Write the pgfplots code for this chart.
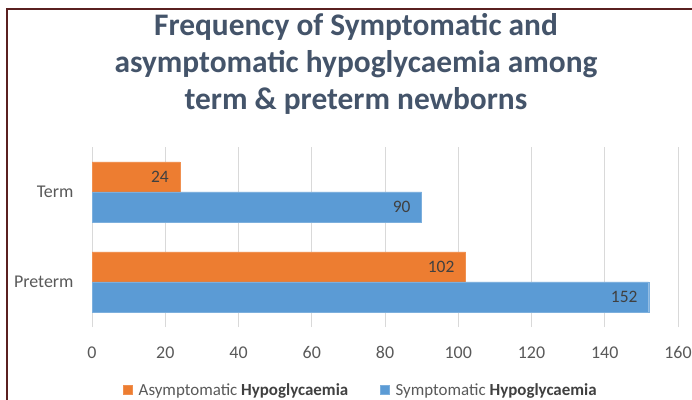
\documentclass[border=0pt]{standalone}
\usepackage{fontspec}
\setmainfont{Carlito}
\usepackage{pgfplots}
\pgfplotsset{compat=1.18}
\definecolor{orangebar}{HTML}{ED7D31}
\definecolor{bluebar}{HTML}{5B9BD5}
\definecolor{titlecol}{HTML}{44546A}
\definecolor{txtgray}{HTML}{595959}
\definecolor{darkgray}{HTML}{404040}
\definecolor{gridgray}{HTML}{D9D9D9}
\definecolor{framecol}{HTML}{5A2020}
\begin{document}
\begin{tikzpicture}
\path[use as bounding box, fill=white] (0,0) rectangle (692bp,400bp);
\draw[framecol, line width=1.5bp] (7bp,0) -- (7bp,391bp) -- (692bp,391bp);
\node[align=center, text=titlecol, font=\fontsize{31.5}{37.5}\selectfont\bfseries] at (356bp,336bp) {Frequency of Symptomatic and\\asymptomatic hypoglycaemia among\\term \& preterm newborns};
\begin{axis}[
 at={(92bp,73bp)}, anchor=south west, scale only axis, width=586bp, height=180bp,
 xbar, bar width=30bp,
 xmin=0, xmax=160, ymin=-0.5, ymax=1.5,
 xtick={0,20,...,160}, ytick={0,1}, yticklabels={Preterm,Term},
 xmajorgrids, grid style={gridgray, line width=0.8bp},
 axis line style={draw=none}, major tick length=0pt,
 tick label style={font=\fontsize{18}{21}\selectfont, text=txtgray},
 /pgf/number format/assume math mode=true,
 xticklabel style={yshift=-16bp},
 yticklabel style={xshift=-15bp},
 nodes near coords,
 every node near coord/.append style={anchor=east, inner sep=0pt, xshift=-11bp, font=\fontsize{17.5}{20}\selectfont, text=darkgray, /pgf/number format/assume math mode=true},
 legend columns=2,
 legend style={at={(0.459,-0.35)}, anchor=center, draw=none, fill=none, font=\fontsize{17}{19}\selectfont, text=txtgray,
   /tikz/every odd column/.append style={column sep=4bp},
   /tikz/every even column/.append style={column sep=30bp}},
 legend image code/.code={\fill[#1] (0bp,-4.5bp) rectangle (9bp,4.5bp);},
]
\addplot[fill=orangebar, draw=orangebar!85!white, bar shift=15bp] coordinates {(102,0) (24,1)};
\addlegendentry{Asymptomatic {\bfseries\color{darkgray}Hypoglycaemia}}
\addplot[fill=bluebar, draw=bluebar!80!white, bar shift=-15bp] coordinates {(152,0) (90,1)};
\addlegendentry{Symptomatic {\bfseries\color{darkgray}Hypoglycaemia}}
\end{axis}
\end{tikzpicture}
\end{document}
